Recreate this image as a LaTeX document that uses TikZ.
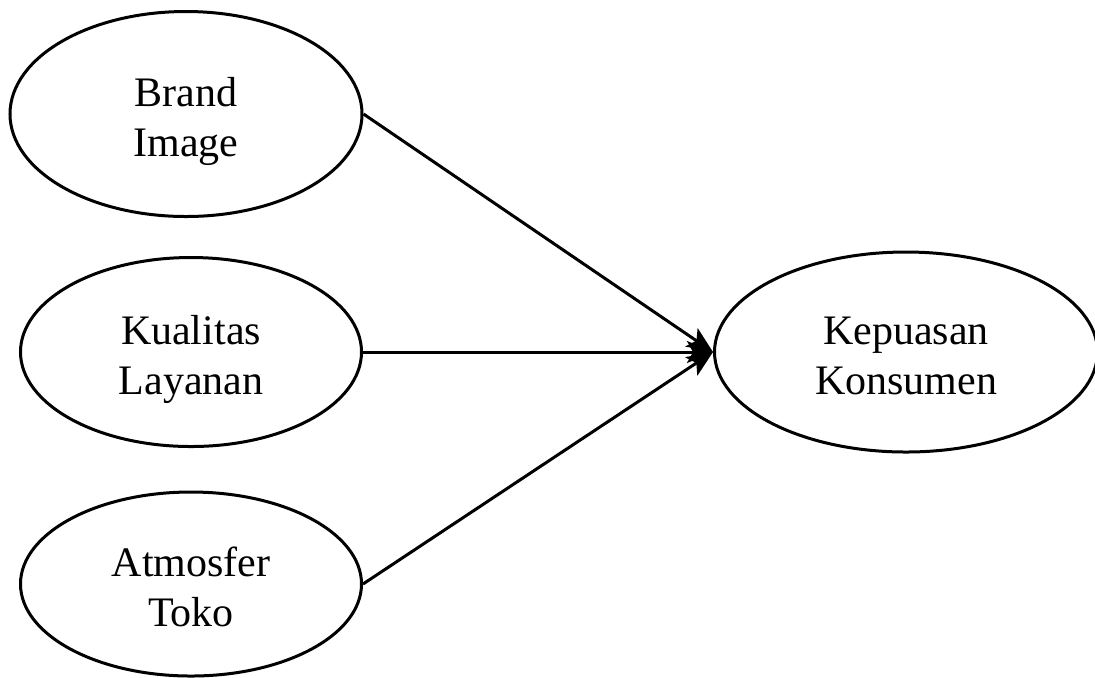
\documentclass[tikz,border=0pt]{standalone}
\usepackage{fontspec}
\setmainfont{Liberation Serif}
\usepackage{tikz}
\usetikzlibrary{arrows.meta,positioning,shapes.geometric}
\tikzset{
  % --- Model variables ------------------------------------------------------
  % fixed text height/depth: the two lines sit a bit below the centre
  construct/.style={
    ellipse, draw=black, fill=white, line width=1.5pt,
    align=center, inner sep=0pt, font=\fontsize{21}{25}\selectfont,
    text height=42pt, text depth=0pt
  },
  pathline/.style={-{Stealth[length=13pt, width=11pt, inset=3pt]}, draw=black, line width=1.5pt},
}

\begin{document}
\begin{tikzpicture}[x=0.5pt, y=-0.5pt]
    \useasboundingbox (0,0) rectangle (1095,677);
    \node[construct, minimum width=176pt, minimum height=102.5pt] (brand) at (186,114) {Brand\\Image};
    \node[construct, minimum width=170.5pt, minimum height=94.5pt] (service) at (191,352) {Kualitas\\Layanan};
    \node[construct, minimum width=170.5pt, minimum height=92pt] (store) at (191,584) {Atmosfer\\Toko};
    \node[construct, minimum width=191.5pt, minimum height=100pt, right=175pt of service] (satisfaction) {Kepuasan\\Konsumen};

    \draw[pathline] (brand.east) -- (satisfaction.west);
    \draw[pathline] (service.east) -- (satisfaction.west);
    \draw[pathline] (store.east) -- (satisfaction.west);
  \end{tikzpicture}
\end{document}
